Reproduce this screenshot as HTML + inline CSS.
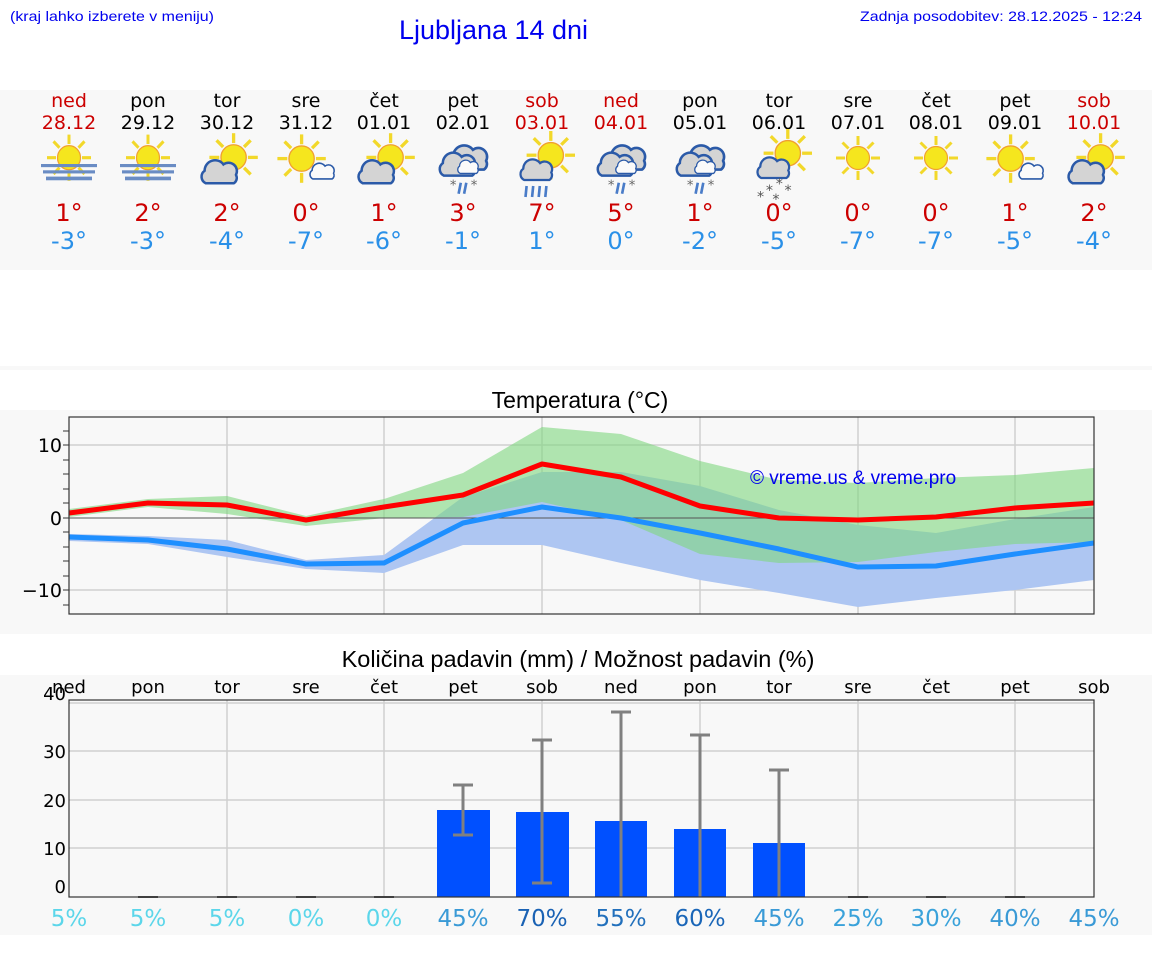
<!DOCTYPE html>
<html><head><meta charset="utf-8"><style>
html,body{margin:0;padding:0;background:#fff;}
svg{display:block;}
text{font-family:"DejaVu Sans",sans-serif;}
.ls{font-family:"Liberation Sans",sans-serif;}
</style></head><body>
<svg width="1152" height="975" viewBox="0 0 1152 975" xmlns="http://www.w3.org/2000/svg">
<defs>
<g id="sun">
 <g stroke="#f2d82a" stroke-width="3" stroke-linecap="butt">
  <line x1="0" y1="-13" x2="0" y2="-22"/><line x1="9.5" y1="-9.5" x2="15.5" y2="-15.5"/><line x1="13" y1="0" x2="22" y2="0"/>
  <line x1="9.5" y1="9.5" x2="15.5" y2="15.5"/><line x1="0" y1="13" x2="0" y2="22"/><line x1="-9.5" y1="9.5" x2="-15.5" y2="15.5"/>
  <line x1="-13" y1="0" x2="-22" y2="0"/><line x1="-9.5" y1="-9.5" x2="-15.5" y2="-15.5"/>
 </g>
 <circle r="11.5" fill="#f5e61e" stroke="#f0a030" stroke-width="1.2"/>
</g>
<path id="cloud" d="M-12,10 A7,7 0 0 1 -13,-2 A10,10 0 0 1 5,-8 A8,8 0 0 1 17,2 A6,6 0 0 1 15,10 Z" fill="#d4d4d4" stroke="#2b5aa8" stroke-width="2.4"/>
<path id="cloudw" d="M-12,10 A7,7 0 0 1 -13,-2 A10,10 0 0 1 5,-8 A8,8 0 0 1 17,2 A6,6 0 0 1 15,10 Z" fill="#fafafa" stroke="#2b5aa8" stroke-width="2.2"/>
<g id="fog"><use href="#sun" transform="translate(0,-6)"/>
 <rect x="-28" y="0" width="56" height="3" fill="#6a8cc4"/><rect x="-26" y="6" width="52" height="3" fill="#6a8cc4"/><rect x="-23" y="12" width="46" height="3.5" fill="#6a8cc4"/></g>
<g id="pc"><use href="#sun" transform="translate(6,-6)"/><use href="#cloud" transform="translate(-8,8) scale(0.95)"/></g>
<g id="ms"><use href="#sun" transform="translate(-4,-4)"/><use href="#cloudw" transform="translate(14,8) scale(0.65)"/></g>
<g id="hv"><use href="#cloud" transform="translate(4,-4)"/><use href="#cloud" transform="translate(-6,2) scale(0.95)"/><use href="#cloudw" transform="translate(4,4) scale(0.55)"/>
 <g stroke="#4a7cc8" stroke-width="2.4"><line x1="-2" y1="18" x2="-4" y2="28"/><line x1="3" y1="18" x2="1" y2="28"/></g>
 <g fill="#666" font-size="12"><text x="-12" y="24" font-family="DejaVu Sans">*</text><text x="7" y="24" font-family="DejaVu Sans">*</text></g></g>
<g id="rs"><use href="#sun" transform="translate(8,-8)"/><use href="#cloud" transform="translate(-6,6) scale(0.85)"/>
 <g stroke="#4a7cc8" stroke-width="2.4"><line x1="-14" y1="20" x2="-15" y2="30"/><line x1="-8" y1="20" x2="-9" y2="30"/><line x1="-2" y1="20" x2="-3" y2="30"/><line x1="4" y1="20" x2="3" y2="30"/></g></g>
<g id="sn"><use href="#sun" transform="translate(8,-8)"/><use href="#cloud" transform="translate(-6,6) scale(0.85)"/>
 <g fill="#555" font-size="13" font-family="DejaVu Sans"><text x="-12" y="30">*</text><text x="-3" y="24">*</text><text x="5" y="30">*</text><text x="-20" y="36">*</text><text x="-6" y="38">*</text></g></g>
</defs>

<!-- header -->
<text x="10" y="21" class="ls" font-size="14" fill="#0000ee" textLength="204" lengthAdjust="spacingAndGlyphs">(kraj lahko izberete v meniju)</text>
<text x="399" y="39" class="ls" font-size="27" fill="#0000ee" textLength="189" lengthAdjust="spacingAndGlyphs">Ljubljana 14 dni</text>
<text x="1142" y="21" class="ls" font-size="14" fill="#0000ee" text-anchor="end" textLength="282" lengthAdjust="spacingAndGlyphs">Zadnja posodobitev: 28.12.2025 - 12:24</text>

<!-- forecast band -->
<rect x="0" y="90" width="1152" height="180" fill="#f8f8f8"/>
<rect x="0" y="366" width="1152" height="4" fill="#f8f8f8"/>
<g font-size="19" text-anchor="middle">
<g fill="#cc0000"><text x="69" y="107">ned</text><text x="69" y="129">28.12</text></g>
<g fill="#000"><text x="148" y="107">pon</text><text x="148" y="129">29.12</text></g>
<g fill="#000"><text x="227" y="107">tor</text><text x="227" y="129">30.12</text></g>
<g fill="#000"><text x="306" y="107">sre</text><text x="306" y="129">31.12</text></g>
<g fill="#000"><text x="384" y="107">čet</text><text x="384" y="129">01.01</text></g>
<g fill="#000"><text x="463" y="107">pet</text><text x="463" y="129">02.01</text></g>
<g fill="#cc0000"><text x="542" y="107">sob</text><text x="542" y="129">03.01</text></g>
<g fill="#cc0000"><text x="621" y="107">ned</text><text x="621" y="129">04.01</text></g>
<g fill="#000"><text x="700" y="107">pon</text><text x="700" y="129">05.01</text></g>
<g fill="#000"><text x="779" y="107">tor</text><text x="779" y="129">06.01</text></g>
<g fill="#000"><text x="858" y="107">sre</text><text x="858" y="129">07.01</text></g>
<g fill="#000"><text x="936" y="107">čet</text><text x="936" y="129">08.01</text></g>
<g fill="#000"><text x="1015" y="107">pet</text><text x="1015" y="129">09.01</text></g>
<g fill="#cc0000"><text x="1094" y="107">sob</text><text x="1094" y="129">10.01</text></g>
</g>
<use href="#fog" transform="translate(69,164) scale(1.0,1.05)"/><use href="#fog" transform="translate(148,164) scale(1.0,1.05)"/><use href="#pc" transform="translate(227,164) scale(1.1)"/>
<use href="#ms" transform="translate(306,163) scale(1.1)"/><use href="#pc" transform="translate(384,164) scale(1.1)"/><use href="#hv" transform="translate(463,163) scale(1.1)"/>
<use href="#rs" transform="translate(542,164) scale(1.1)"/><use href="#hv" transform="translate(621,163) scale(1.1)"/><use href="#hv" transform="translate(700,163) scale(1.1)"/>
<use href="#sn" transform="translate(779,162) scale(1.1)"/><use href="#sun" transform="translate(858,158)"/><use href="#sun" transform="translate(936,158)"/>
<use href="#ms" transform="translate(1015,163) scale(1.1)"/><use href="#pc" transform="translate(1094,164) scale(1.1)"/>
<g font-size="24" text-anchor="middle" fill="#cc0000">
<text x="69" y="221">1°</text><text x="148" y="221">2°</text><text x="227" y="221">2°</text><text x="306" y="221">0°</text><text x="384" y="221">1°</text><text x="463" y="221">3°</text><text x="542" y="221">7°</text><text x="621" y="221">5°</text><text x="700" y="221">1°</text><text x="779" y="221">0°</text><text x="858" y="221">0°</text><text x="936" y="221">0°</text><text x="1015" y="221">1°</text><text x="1094" y="221">2°</text>
</g>
<g font-size="24" text-anchor="middle" fill="#2a90e8">
<text x="69" y="249">-3°</text><text x="148" y="249">-3°</text><text x="227" y="249">-4°</text><text x="306" y="249">-7°</text><text x="384" y="249">-6°</text><text x="463" y="249">-1°</text><text x="542" y="249">1°</text><text x="621" y="249">0°</text><text x="700" y="249">-2°</text><text x="779" y="249">-5°</text><text x="858" y="249">-7°</text><text x="936" y="249">-7°</text><text x="1015" y="249">-5°</text><text x="1094" y="249">-4°</text>
</g>

<!-- temperature chart -->
<rect x="0" y="410" width="1152" height="224" fill="#f8f8f8"/>
<text x="580" y="408" class="ls" font-size="23" text-anchor="middle" fill="#000">Temperatura (°C)</text>
<g stroke="#cfcfcf" stroke-width="1.5">
<line x1="69" y1="445" x2="1094" y2="445"/><line x1="69" y1="590" x2="1094" y2="590"/>
<line x1="227" y1="417" x2="227" y2="614"/><line x1="384" y1="417" x2="384" y2="614"/><line x1="542" y1="417" x2="542" y2="614"/><line x1="700" y1="417" x2="700" y2="614"/><line x1="858" y1="417" x2="858" y2="614"/><line x1="1015" y1="417" x2="1015" y2="614"/>
</g>
<polygon fill="#aec6f2" points="69,534 148,536 227,540 306,560 384,555 463,497 542,472 621,472 700,486 779,510 858,525 936,533 1015,519 1094,507 1094,580 1015,590 936,598 858,607 779,593 700,580 621,563 542,545 463,545 384,573 306,569 227,557 148,544 69,541"/>
<polygon fill="#7fd77f" fill-opacity="0.6" points="69,509 148,499 227,496 306,516 384,499 463,473 542,427 621,434 700,461 779,480 858,483 936,478 1015,475 1094,468 1094,542 1015,544 936,552 858,562 779,563 700,554 621,520 542,502 463,517 384,518 306,526 227,514 148,507 69,517"/>
<line x1="69" y1="518" x2="1094" y2="518" stroke="#555" stroke-width="1"/>
<polyline fill="none" stroke="#ff0000" stroke-width="5" stroke-linejoin="round" points="69,513 148,503 227,505 306,520 384,507 463,495 542,464 621,477 700,506 779,518 858,520 936,517 1015,508 1094,503"/>
<polyline fill="none" stroke="#1e8fff" stroke-width="5" stroke-linejoin="round" points="69,537 148,540 227,549 306,564 384,563 463,523 542,507 621,518 700,533 779,549 858,567 936,566 1015,554 1094,543"/>
<text x="750" y="484" class="ls" font-size="19" fill="#0000ee">© vreme.us &amp; vreme.pro</text>
<rect x="69" y="417" width="1025" height="197" fill="none" stroke="#333" stroke-width="1.2"/>
<g stroke="#333" stroke-width="1">
<line x1="63" y1="431" x2="69" y2="431"/><line x1="63" y1="445" x2="69" y2="445"/><line x1="63" y1="460" x2="69" y2="460"/><line x1="63" y1="474" x2="69" y2="474"/><line x1="63" y1="489" x2="69" y2="489"/><line x1="63" y1="503" x2="69" y2="503"/><line x1="63" y1="518" x2="69" y2="518"/><line x1="63" y1="532" x2="69" y2="532"/><line x1="63" y1="547" x2="69" y2="547"/><line x1="63" y1="561" x2="69" y2="561"/><line x1="63" y1="576" x2="69" y2="576"/><line x1="63" y1="590" x2="69" y2="590"/><line x1="63" y1="605" x2="69" y2="605"/>
</g>
<g font-size="19" text-anchor="end" fill="#000"><text x="62" y="452">10</text><text x="62" y="525">0</text><text x="62" y="597">−10</text></g>

<!-- precipitation chart -->
<rect x="0" y="675" width="1152" height="260" fill="#f8f8f8"/>
<text x="578" y="667" class="ls" font-size="23.5" text-anchor="middle" fill="#000">Količina padavin (mm) / Možnost padavin (%)</text>
<g stroke="#cfcfcf" stroke-width="1.5">
<line x1="69" y1="703" x2="1094" y2="703"/><line x1="69" y1="751" x2="1094" y2="751"/><line x1="69" y1="800" x2="1094" y2="800"/><line x1="69" y1="848" x2="1094" y2="848"/>
<line x1="227" y1="700" x2="227" y2="897"/><line x1="384" y1="700" x2="384" y2="897"/><line x1="542" y1="700" x2="542" y2="897"/><line x1="700" y1="700" x2="700" y2="897"/><line x1="858" y1="700" x2="858" y2="897"/><line x1="1015" y1="700" x2="1015" y2="897"/>
</g>
<g fill="#0050ff">
<rect x="437" y="810" width="53" height="87"/><rect x="516" y="812" width="53" height="85"/><rect x="595" y="821" width="52" height="76"/><rect x="674" y="829" width="52" height="68"/><rect x="753" y="843" width="52" height="54"/>
</g>
<g stroke="#808080" stroke-width="3">
<line x1="463" y1="785" x2="463" y2="835"/><line x1="453" y1="785" x2="473" y2="785"/><line x1="453" y1="835" x2="473" y2="835"/>
<line x1="542" y1="740" x2="542" y2="883"/><line x1="532" y1="740" x2="552" y2="740"/><line x1="532" y1="883" x2="552" y2="883"/>
<line x1="621" y1="712" x2="621" y2="897"/><line x1="611" y1="712" x2="631" y2="712"/>
<line x1="700" y1="735" x2="700" y2="897"/><line x1="690" y1="735" x2="710" y2="735"/>
<line x1="779" y1="770" x2="779" y2="897"/><line x1="769" y1="770" x2="789" y2="770"/>
</g>
<g stroke="#555" stroke-width="2">
<line x1="138" y1="897" x2="158" y2="897"/><line x1="217" y1="897" x2="237" y2="897"/><line x1="296" y1="897" x2="316" y2="897"/><line x1="374" y1="897" x2="394" y2="897"/><line x1="848" y1="897" x2="868" y2="897"/><line x1="926" y1="897" x2="946" y2="897"/><line x1="1005" y1="897" x2="1025" y2="897"/>
</g>
<rect x="69" y="700" width="1025" height="197" fill="none" stroke="#333" stroke-width="1.2"/>
<g font-size="18" text-anchor="middle" fill="#000">
<text x="69" y="693">ned</text><text x="148" y="693">pon</text><text x="227" y="693">tor</text><text x="306" y="693">sre</text><text x="384" y="693">čet</text><text x="463" y="693">pet</text><text x="542" y="693">sob</text><text x="621" y="693">ned</text><text x="700" y="693">pon</text><text x="779" y="693">tor</text><text x="858" y="693">sre</text><text x="936" y="693">čet</text><text x="1015" y="693">pet</text><text x="1094" y="693">sob</text>
</g>
<g font-size="18" text-anchor="end" fill="#000"><text x="66" y="700">40</text><text x="66" y="758">30</text><text x="66" y="807">20</text><text x="66" y="855">10</text><text x="66" y="893">0</text></g>
<g font-size="23" text-anchor="middle">
<text x="69" y="926" fill="#5cd6ea">5%</text><text x="148" y="926" fill="#5cd6ea">5%</text><text x="227" y="926" fill="#5cd6ea">5%</text><text x="306" y="926" fill="#5cd6ea">0%</text><text x="384" y="926" fill="#5cd6ea">0%</text>
<text x="463" y="926" fill="#3a9ad6">45%</text><text x="542" y="926" fill="#1a62b4">70%</text><text x="621" y="926" fill="#2270bc">55%</text><text x="700" y="926" fill="#1a66b8">60%</text><text x="779" y="926" fill="#3a9ad6">45%</text>
<text x="858" y="926" fill="#3aa2da">25%</text><text x="936" y="926" fill="#3aa2da">30%</text><text x="1015" y="926" fill="#3a9ad6">40%</text><text x="1094" y="926" fill="#3a9ad6">45%</text>
</g>
</svg>
</body></html>
